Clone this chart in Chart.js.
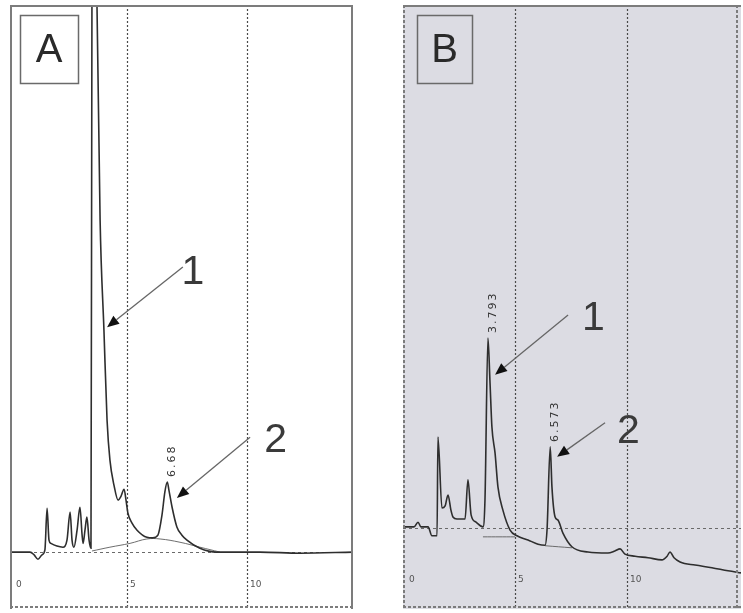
<!DOCTYPE html>
<html>
<head>
<meta charset="utf-8">
<script src="https://cdn.jsdelivr.net/npm/chart.js@4"></script>
<style>
  html, body { margin: 0; padding: 0; background: #ffffff; }
  #wrap { position: relative; width: 743px; height: 613px; }
  canvas { position: absolute; }
  #chartA { left: 10px; top: 5px; }
  #chartB { left: 403px; top: 5px; }
</style>
</head>
<body>
<div id="wrap">
  <canvas id="chartA" width="343" height="604"></canvas>
  <canvas id="chartB" width="338" height="604"></canvas>
</div>
<script>
// Retention time axis marks (min)
const gridTimes = [0, 5, 10];
const tickLabels = ['0', '5', '10'];

// Chromatogram A: retention time (min) and detector response
const timeA = [0.17, 0.96, 1.13, 1.29, 1.46, 1.58, 1.67, 1.75, 1.83, 2.08, 2.33, 2.50, 2.63, 2.71,
  2.79, 2.92, 3.04, 3.13, 3.17, 3.25, 3.33, 3.42, 3.50, 3.54, 3.65, 3.75, 3.88, 4.04, 4.17, 4.29,
  4.46, 4.63, 4.75, 4.88, 4.96, 5.04, 5.21, 5.42, 5.83, 6.08, 6.29, 6.46, 6.58, 6.68, 6.75, 6.88,
  7.08, 7.29, 7.50, 8.04, 8.75, 10.54, 12.21, 14.42];
const respA = [0, 0, -0.5, -1.3, -0.5, 0.4, 8.0, 2.2, 1.6, 1.1, 0.9, 2.2, 7.3, 2.2,
  0.9, 4.0, 8.2, 3.1, 1.6, 4.0, 6.4, 2.2, 0.7, 100, 146.6, 100, 60.7, 40.6, 24.1, 16.8,
  12.2, 9.5, 10.2, 11.5, 9.5, 7.1, 5.3, 4.0, 2.7, 2.6, 3.1, 6.8, 11.0, 12.8, 11.3, 8.2,
  4.6, 3.1, 2.2, 0.7, 0, 0, -0.2, 0];
// integrator baseline drawn under the late peaks of A
const baseTimeA = [3.54, 4.29, 5.13, 5.83, 6.38, 7.21, 8.04, 8.88];
const baseRespA = [0.2, 0.9, 1.6, 2.4, 2.4, 1.8, 0.9, 0];
// labelled peaks of A
const peakTimesA = [6.68];

// Chromatogram B
const timeB = [0.09, 0.49, 0.67, 0.80, 1.12, 1.29, 1.52, 1.56, 1.74, 1.88, 2.01, 2.14, 2.23, 2.41,
  2.77, 2.90, 3.04, 3.26, 3.57, 3.66, 3.793, 3.88, 3.97, 4.11, 4.24, 4.46, 4.78, 5.09, 5.58, 6.03,
  6.34, 6.43, 6.573, 6.65, 6.79, 6.92, 7.14, 7.54, 8.26, 9.15, 9.46, 9.69, 9.91, 10.36, 10.94,
  11.56, 11.79, 11.92, 12.10, 12.37, 13.04, 13.79, 14.51, 15.09];
const respB = [0.2, 0.2, 1.1, 0.2, 0.2, -1.5, -1.5, 17.4, 3.8, 4.2, 6.3, 3.4, 2.1, 1.7,
  1.7, 9.2, 2.5, 1.1, 0.2, 5.4, 36.3, 28.3, 19.3, 14.3, 7.8, 3.4, -0.4, -1.5, -2.3, -3.1,
  -3.3, -0.4, 15.5, 7.8, 2.1, 1.5, -1.0, -3.6, -4.6, -4.8, -4.4, -4.0, -5.0, -5.4, -5.7,
  -6.1, -5.4, -4.6, -5.7, -6.5, -7.1, -7.6, -8.2, -8.6];
const baseTimeB = [3.57, 5.0, 5.5, 6.34, 7.54];
const baseRespB = [-1.7, -1.7, null, -3.4, -3.8];
const peakTimesB = [3.793, 6.573];

const toPoints = (xs, ys) => xs.map((t, i) => ({ x: t, y: ys[i] }));

// Draws the paper frame, dotted time grid, tick numbers, peak retention labels,
// numbered arrows and the panel letter.
const panelPlugin = {
  id: 'panel',
  beforeDraw(chart, args, o) {
    const { ctx, width, height } = chart;
    ctx.save();
    ctx.fillStyle = o.bg;
    ctx.fillRect(0, 0, width, height);
    ctx.restore();
  },
  beforeDatasetsDraw(chart, args, o) {
    const { ctx, chartArea: a, scales: { x, y } } = chart;
    ctx.save();
    ctx.strokeStyle = '#4a4a4a';
    ctx.lineWidth = 1.2;
    ctx.setLineDash([2, 2]);
    gridTimes.forEach(t => {
      const px = Math.round(x.getPixelForValue(t)) + 0.5;
      if (px < a.left + 3 || px > a.right - 3) return;
      ctx.beginPath();
      ctx.moveTo(px, a.top);
      ctx.lineTo(px, a.bottom);
      ctx.stroke();
    });
    // zero-response reference line
    ctx.strokeStyle = '#6a6a6a';
    ctx.lineWidth = 1;
    ctx.setLineDash([3, 3]);
    const py0 = Math.round(y.getPixelForValue(0)) + 0.5;
    ctx.beginPath();
    ctx.moveTo(a.left, py0);
    ctx.lineTo(a.right, py0);
    ctx.stroke();
    ctx.setLineDash([]);
    // time tick numbers
    ctx.fillStyle = '#555';
    ctx.font = '9px "DejaVu Sans"';
    ctx.textBaseline = 'middle';
    ctx.textAlign = 'left';
    gridTimes.forEach((t, i) => {
      const px = Math.max(x.getPixelForValue(t), a.left + 3);
      ctx.fillText(tickLabels[i], px + 3, o.tickY);
    });
    ctx.restore();
  },
  afterDraw(chart, args, o) {
    const { ctx, chartArea: a, scales: { x, y }, width, height } = chart;
    const ds = chart.data.datasets[0].data;
    ctx.save();

    // frame
    ctx.strokeStyle = '#7c7c7c';
    ctx.lineWidth = 2;
    o.frame.forEach(side => {
      ctx.setLineDash(side.dash ? [3, 2] : []);
      ctx.beginPath();
      if (side.edge === 'top') { ctx.moveTo(0, 1); ctx.lineTo(width, 1); }
      if (side.edge === 'bottom') { ctx.moveTo(0, height - 2); ctx.lineTo(width, height - 2); }
      if (side.edge === 'left') { ctx.moveTo(1, 0); ctx.lineTo(1, height); }
      if (side.edge === 'right') { ctx.moveTo(width - 1 - (side.inset || 0), 0); ctx.lineTo(width - 1 - (side.inset || 0), height); }
      ctx.stroke();
    });
    ctx.setLineDash([]);

    // retention time printed above each labelled peak
    ctx.fillStyle = '#333';
    ctx.font = '11px "DejaVu Sans"';
    ctx.letterSpacing = '2px';
    ctx.textAlign = 'left';
    ctx.textBaseline = 'middle';
    o.peaks.forEach(t => {
      const pt = ds.find(p => p.x === t);
      const px = x.getPixelForValue(t) + 5;
      const py = y.getPixelForValue(pt.y) - 5;
      ctx.save();
      ctx.translate(px, py);
      ctx.rotate(-Math.PI / 2);
      ctx.fillText(String(t), 0, 0);
      ctx.restore();
    });
    ctx.letterSpacing = '0px';

    // numbered arrows pointing at the compounds
    o.arrows.forEach(ar => {
      const x1 = x.getPixelForValue(ar.from[0]), y1 = y.getPixelForValue(ar.from[1]);
      const x2 = x.getPixelForValue(ar.to[0]), y2 = y.getPixelForValue(ar.to[1]);
      const ang = Math.atan2(y2 - y1, x2 - x1);
      const hl = 12, hw = 5;
      const bx = x2 - hl * Math.cos(ang), by = y2 - hl * Math.sin(ang);
      ctx.strokeStyle = '#666';
      ctx.lineWidth = 1.3;
      ctx.beginPath();
      ctx.moveTo(x1, y1);
      ctx.lineTo(bx, by);
      ctx.stroke();
      ctx.fillStyle = '#111';
      ctx.beginPath();
      ctx.moveTo(x2, y2);
      ctx.lineTo(bx + hw * Math.sin(ang), by - hw * Math.cos(ang));
      ctx.lineTo(bx - hw * Math.sin(ang), by + hw * Math.cos(ang));
      ctx.closePath();
      ctx.fill();
      ctx.fillStyle = '#3a3a3a';
      ctx.font = '300 41px "Liberation Sans"';
      ctx.textAlign = 'center';
      ctx.textBaseline = 'middle';
      ctx.fillText(ar.text, x.getPixelForValue(ar.textAt[0]), y.getPixelForValue(ar.textAt[1]));
    });

    // panel letter in its box
    const L = o.letter;
    ctx.strokeStyle = '#6a6a6a';
    ctx.lineWidth = 1.5;
    ctx.strokeRect(L.x + 0.5, L.y + 0.5, L.w, L.h);
    ctx.fillStyle = '#2a2a2a';
    ctx.font = '40px "Liberation Sans"';
    ctx.textAlign = 'center';
    ctx.textBaseline = 'middle';
    ctx.fillText(L.text, L.x + L.w / 2, L.y + L.h / 2 + 2);
    ctx.restore();
  }
};

function makeChart(id, cfg) {
  return new Chart(document.getElementById(id), {
    type: 'line',
    data: {
      datasets: [
        {
          data: toPoints(cfg.time, cfg.resp),
          borderColor: '#2e2e2e',
          borderWidth: 1.6,
          pointRadius: 0,
          cubicInterpolationMode: 'monotone',
          fill: false
        },
        {
          data: toPoints(cfg.baseTime, cfg.baseResp),
          borderColor: '#5e5e5e',
          borderWidth: 0.9,
          pointRadius: 0,
          tension: 0.4,
          spanGaps: false,
          fill: false
        }
      ]
    },
    options: {
      responsive: false,
      animation: false,
      events: [],
      layout: { padding: 0 },
      scales: {
        x: { type: 'linear', min: cfg.xMin, max: cfg.xMax, display: false },
        y: { type: 'linear', min: cfg.yMin, max: cfg.yMax, display: false }
      },
      plugins: {
        legend: { display: false },
        tooltip: { enabled: false },
        panel: cfg.panel
      }
    },
    plugins: [panelPlugin]
  });
}

makeChart('chartA', {
  time: timeA, resp: respA, baseTime: baseTimeA, baseResp: baseRespA,
  xMin: 0.125, xMax: 14.42, yMin: -10.4, yMax: 100,
  panel: {
    bg: '#ffffff',
    tickY: 580,
    frame: [{ edge: 'top' }, { edge: 'left' }, { edge: 'right' }, { edge: 'bottom', dash: true }],
    peaks: peakTimesA,
    arrows: [
      { from: [7.33, 52.1], to: [4.17, 41.1], text: '1', textAt: [7.75, 51.0] },
      { from: [10.13, 21.0], to: [7.08, 9.9], text: '2', textAt: [11.2, 20.3] }
    ],
    letter: { text: 'A', x: 10, y: 10, w: 58, h: 68 }
  }
});

makeChart('chartB', {
  time: timeB, resp: respB, baseTime: baseTimeB, baseResp: baseRespB,
  xMin: 0, xMax: 15.09, yMin: -15.5, yMax: 100,
  panel: {
    bg: '#dcdce3',
    tickY: 575,
    frame: [{ edge: 'top' }, { edge: 'left', dash: true }, { edge: 'right', dash: true, inset: 3 }, { edge: 'bottom', dash: true }],
    peaks: peakTimesB,
    arrows: [
      { from: [7.37, 40.7], to: [4.11, 29.3], text: '1', textAt: [8.5, 40.0] },
      { from: [9.02, 20.1], to: [6.88, 13.6], text: '2', textAt: [10.06, 18.5] }
    ],
    letter: { text: 'B', x: 14, y: 10, w: 55, h: 68 }
  }
});
</script>
</body>
</html>
